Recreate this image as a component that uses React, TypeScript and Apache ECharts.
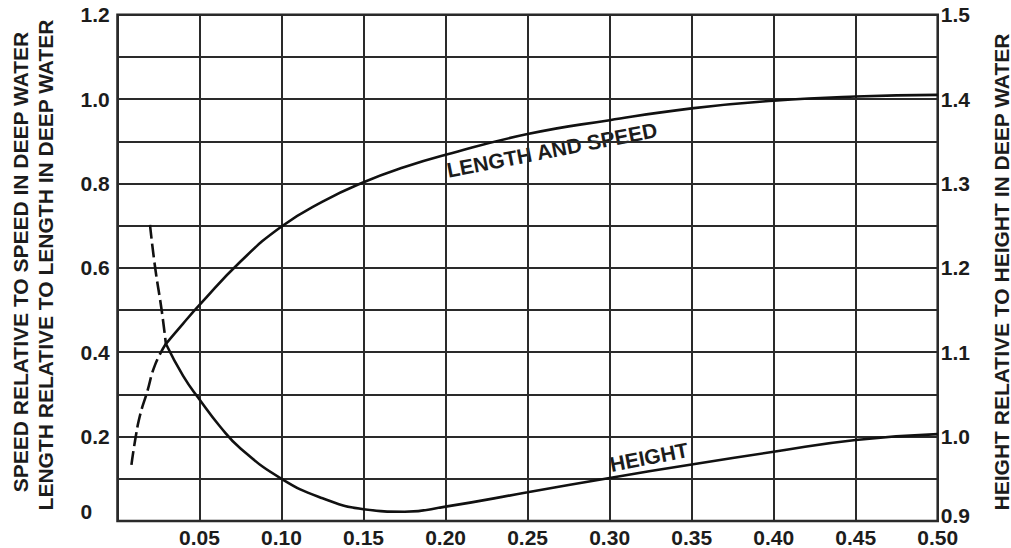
import React, { useEffect, useRef } from "react";
import * as echarts from "echarts";

// Length & speed curve (left axis), dashed part then solid part
const lengthDashedX = [0.0085, 0.0107, 0.0137, 0.018, 0.0229, 0.0295];
const lengthDashedY = [0.133, 0.19, 0.25, 0.305, 0.37, 0.42];
const lengthSolidX = [0.0295, 0.04, 0.05, 0.075, 0.1, 0.125, 0.15, 0.175, 0.2, 0.25, 0.3, 0.35, 0.4, 0.45, 0.5];
const lengthSolidY = [0.42, 0.468, 0.512, 0.615, 0.698, 0.757, 0.803, 0.839, 0.868, 0.917, 0.95, 0.978, 0.996, 1.006, 1.01];

// Height curve (right axis), dashed part then solid part
const heightDashedX = [0.0198, 0.0229, 0.0269, 0.0295];
const heightDashedY = [1.251, 1.201, 1.15, 1.11];
const heightSolidX = [0.0295, 0.04, 0.05, 0.0625, 0.075, 0.1, 0.125, 0.15, 0.175, 0.2, 0.25, 0.3, 0.35, 0.4, 0.45, 0.5];
const heightSolidY = [1.11, 1.072, 1.044, 1.012, 0.986, 0.95, 0.927, 0.914, 0.911, 0.917, 0.934, 0.951, 0.967, 0.982, 0.996, 1.003];

const leftTitleLines = ["SPEED RELATIVE TO SPEED IN DEEP WATER", "LENGTH RELATIVE TO LENGTH IN DEEP WATER"];
const rightTitle = "HEIGHT RELATIVE TO HEIGHT IN DEEP WATER";
const curveLabels = ["LENGTH AND SPEED", "HEIGHT"];

const zip = (xs: number[], ys: number[]) => xs.map((x, i) => [x, ys[i]]);

const FONT = "Liberation Sans, Arial, Helvetica, sans-serif";
const INK = "#1c1c1c";

export default function App() {
  const ref = useRef<HTMLDivElement>(null);
  useEffect(() => {
    if (!ref.current) return;
    const chart = echarts.init(ref.current, null, { renderer: "svg" });
    const labelBase = { fontSize: 21, fontWeight: "bold" as const, fontFamily: FONT, color: INK };
    const lineBase = { color: "#111", width: 2.6 };
    const curve = { type: "line", symbol: "none", smooth: 0.5 };
    const textStyle = (t: string) => ({
      text: t,
      font: `bold 21px ${FONT}`,
      fill: INK,
      align: "center",
      verticalAlign: "middle",
    });
    chart.setOption({
      animation: false,
      backgroundColor: "#fff",
      grid: {
        left: 117.5,
        right: 73.3,
        top: 14.7,
        bottom: 27,
        show: true,
        borderColor: "#222",
        borderWidth: 2.5,
      },
      xAxis: {
        type: "value",
        min: 0,
        max: 0.5,
        interval: 0.05,
        axisLine: { show: false },
        axisTick: { show: false },
        splitLine: { show: true, lineStyle: { color: "#2a2a2a", width: 2 } },
        axisLabel: {
          ...labelBase,
          margin: 6,
          formatter: (v: number) => (v < 1e-9 ? "" : v.toFixed(2)),
        },
      },
      yAxis: [
        {
          type: "value",
          min: 0,
          max: 1.2,
          interval: 0.1,
          axisLine: { show: false },
          axisTick: { show: false },
          splitLine: { show: true, lineStyle: { color: "#2a2a2a", width: 2 } },
          axisLabel: {
            ...labelBase,
            align: "left",
            margin: 37,
            formatter: (v: number) => {
              const k = Math.round(v * 10);
              if (k % 2 !== 0) return "";
              if (k === 0) return "{z|0}";
              return (k / 10).toFixed(1);
            },
            rich: { z: { ...labelBase, padding: [0, 0, 20, 0] } },
          },
        },
        {
          type: "value",
          min: 0.9,
          max: 1.5,
          interval: 0.1,
          position: "right",
          axisLine: { show: false },
          axisTick: { show: false },
          splitLine: { show: false },
          axisLabel: {
            ...labelBase,
            align: "left",
            margin: 3,
            formatter: (v: number) => (Math.abs(v - 0.9) < 1e-6 ? "{z|0.9}" : v.toFixed(1)),
            rich: { z: { ...labelBase, padding: [0, 0, 12, 0] } },
          },
        },
      ],
      series: [
        { ...curve, data: zip(lengthDashedX, lengthDashedY), yAxisIndex: 0, lineStyle: { ...lineBase, type: [14, 5] } },
        { ...curve, data: zip(lengthSolidX, lengthSolidY), yAxisIndex: 0, lineStyle: { ...lineBase } },
        { ...curve, data: zip(heightDashedX, heightDashedY), yAxisIndex: 1, lineStyle: { ...lineBase, type: [14, 5] } },
        { ...curve, data: zip(heightSolidX, heightSolidY), yAxisIndex: 1, lineStyle: { ...lineBase } },
      ],
      graphic: [
        { type: "text", x: 20, y: 262, rotation: Math.PI / 2, style: textStyle(leftTitleLines[0]) },
        { type: "text", x: 45, y: 265, rotation: Math.PI / 2, style: textStyle(leftTitleLines[1]) },
        { type: "text", x: 1001, y: 272, rotation: Math.PI / 2, style: textStyle(rightTitle) },
        { type: "text", x: 552, y: 150, rotation: (11 * Math.PI) / 180, style: textStyle(curveLabels[0]) },
        { type: "text", x: 649, y: 457, rotation: (11 * Math.PI) / 180, style: textStyle(curveLabels[1]) },
      ],
    });
    return () => chart.dispose();
  }, []);
  return <div ref={ref} style={{ position: "absolute", left: 0, top: 0, width: 1011, height: 548 }} />;
}
